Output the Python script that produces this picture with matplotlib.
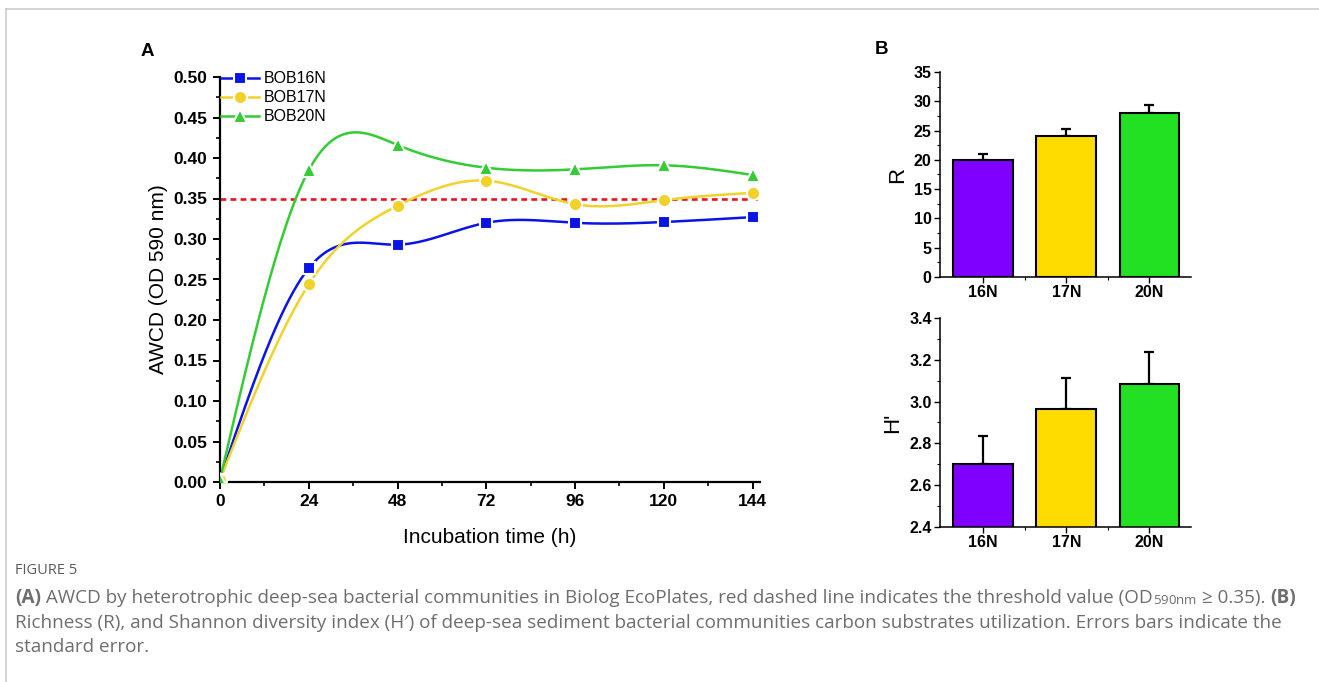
import numpy as np
import matplotlib
matplotlib.use('Agg')
import matplotlib.pyplot as plt
from matplotlib.ticker import MultipleLocator, FormatStrFormatter

plt.rcParams['font.family'] = ['Liberation Sans', 'DejaVu Sans']

# Panel A data
hours = [0, 24, 48, 72, 96, 120, 144]
bob16n = [0.003, 0.264, 0.293, 0.320, 0.320, 0.321, 0.327]
bob17n = [0.003, 0.244, 0.341, 0.372, 0.343, 0.348, 0.357]
bob20n = [0.003, 0.385, 0.416, 0.388, 0.386, 0.391, 0.379]
threshold = 0.35

# Panel B data
samples = ['16N', '17N', '20N']
richness = [20.0, 24.0, 28.0]
richness_err = [1.0, 1.2, 1.4]
shannon = [2.70, 2.965, 3.083]
shannon_err = [0.135, 0.15, 0.155]
bar_colors = ['#7f00ff', '#ffdc00', '#22e022']


def spline(x, y, n=400):
    # natural cubic spline, only used to draw the smooth connecting line
    x = np.asarray(x, float)
    y = np.asarray(y, float)
    k = len(x)
    h = np.diff(x)
    A = np.zeros((k, k))
    b = np.zeros(k)
    A[0, 0] = A[-1, -1] = 1
    for i in range(1, k - 1):
        A[i, i - 1] = h[i - 1]
        A[i, i] = 2 * (h[i - 1] + h[i])
        A[i, i + 1] = h[i]
        b[i] = 6 * ((y[i + 1] - y[i]) / h[i] - (y[i] - y[i - 1]) / h[i - 1])
    m = np.linalg.solve(A, b)
    xs = np.linspace(x[0], x[-1], n)
    j = np.clip(np.searchsorted(x, xs) - 1, 0, k - 2)
    t = xs - x[j]
    hj = h[j]
    ys = (m[j] * (x[j + 1] - xs) ** 3 / (6 * hj) + m[j + 1] * t ** 3 / (6 * hj)
          + (y[j] / hj - m[j] * hj / 6) * (x[j + 1] - xs)
          + (y[j + 1] / hj - m[j + 1] * hj / 6) * t)
    return xs, ys


fig = plt.figure(figsize=(13.19, 6.82), dpi=100)

# light page frame
fig.add_artist(plt.Line2D([6 / 1319, 6 / 1319], [0, 1 - 9 / 682], transform=fig.transFigure,
                          color='#cccccc', lw=1.2))
fig.add_artist(plt.Line2D([6 / 1319, 1], [1 - 9 / 682, 1 - 9 / 682], transform=fig.transFigure,
                          color='#cccccc', lw=1.2))

# ---- Panel A ----
ax = fig.add_axes([220 / 1319, 1 - 482 / 682, 540 / 1319, 405 / 682])
series = [('BOB16N', bob16n, '#0a14e6', 's', 8.5),
          ('BOB17N', bob17n, '#f2d22a', 'o', 9.5),
          ('BOB20N', bob20n, '#33cc33', '^', 10.5)]
for name, vals, col, mk, ms in series:
    xs, ys = spline(hours, vals)
    ax.plot(xs, ys, color=col, lw=1.8, zorder=2)
    ax.plot(hours, vals, ls='none', marker=mk, ms=ms, color=col, mec='white', mew=1.5, zorder=3)
    ax.plot([], [], color=col, lw=1.8, marker=mk, ms=ms, mec='white', mew=1.5, label=name)
ax.axhline(threshold, color='#e8141e', ls=(0, (2.2, 1.6)), lw=1.9, zorder=1)

ax.set_xlim(0, 146)
ax.set_ylim(0, 0.5)
ax.xaxis.set_major_locator(MultipleLocator(24))
ax.xaxis.set_minor_locator(MultipleLocator(12))
ax.yaxis.set_major_locator(MultipleLocator(0.05))
ax.yaxis.set_minor_locator(MultipleLocator(0.025))
ax.yaxis.set_major_formatter(FormatStrFormatter('%.2f'))
for s in ['top', 'right']:
    ax.spines[s].set_visible(False)
for s in ['left', 'bottom']:
    ax.spines[s].set_linewidth(1.6)
ax.tick_params(which='major', length=5, width=1.4, labelsize=12.5, pad=4)
ax.tick_params(which='minor', length=3, width=1.2)
for lab in ax.get_xticklabels() + ax.get_yticklabels():
    lab.set_fontweight('bold')
ax.set_xlabel('Incubation time (h)', fontsize=15, labelpad=13)
ax.set_ylabel('AWCD (OD 590 nm)', fontsize=15, labelpad=4)
ax.legend(loc='upper left', bbox_to_anchor=(-0.01, 1.03), frameon=False, fontsize=11.5,
          handlelength=2.4, handletextpad=0.3, labelspacing=0.25, borderaxespad=0)
fig.text(147 / 1319, 1 - 52 / 682, 'A', fontsize=13.5, fontweight='bold', ha='center', va='center')

# ---- Panel B ----
axR = fig.add_axes([940 / 1319, 1 - 277 / 682, 251 / 1319, 205 / 682])
axH = fig.add_axes([940 / 1319, 1 - 527 / 682, 251 / 1319, 209 / 682])
pos = np.arange(1, len(samples) + 1)
for a, vals, errs, lim, major, minor, fmt, lab in [
        (axR, richness, richness_err, (0, 35), 5, 2.5, '%d', 'R'),
        (axH, shannon, shannon_err, (2.4, 3.4), 0.2, 0.1, '%.1f', "H'")]:
    a.bar(pos, vals, width=0.72, color=bar_colors, edgecolor='black', linewidth=1.5, zorder=2)
    a.errorbar(pos, vals, yerr=[[0] * 3, errs], fmt='none', ecolor='black', elinewidth=1.6,
               capsize=3.5, capthick=1.6, zorder=1)
    a.set_xlim(0.48, 3.5)
    a.set_ylim(*lim)
    a.set_xticks(pos)
    a.set_xticklabels(samples)
    a.set_xticks([1.5, 2.5], minor=True)
    a.yaxis.set_major_locator(MultipleLocator(major))
    a.yaxis.set_minor_locator(MultipleLocator(minor))
    a.yaxis.set_major_formatter(FormatStrFormatter(fmt))
    for s in ['top', 'right']:
        a.spines[s].set_visible(False)
    for s in ['left', 'bottom']:
        a.spines[s].set_linewidth(1.1)
    a.tick_params(which='major', length=4, width=1.0, labelsize=11.5, pad=2)
    a.tick_params(which='minor', length=2.5, width=0.8)
    for t in a.get_xticklabels() + a.get_yticklabels():
        t.set_fontweight('bold')
    a.set_ylabel(lab, fontsize=16, labelpad=4)
fig.text(882 / 1319, 1 - 50 / 682, 'B', fontsize=13.5, fontweight='bold', ha='center', va='center')

# ---- Caption ----
cap_font = 'Open Sans'
cap_col = '#6e6e6e'
fig.text(15 / 1319, 1 - 571 / 682, 'FIGURE 5', fontsize=10.5, color='#5a5a5a', family=cap_font,
         va='center')

fig.canvas.draw()
renderer = fig.canvas.get_renderer()


def runs(y_px, parts, size):
    x = 15
    for txt, wt in parts:
        t = fig.text(x / 1319, 1 - y_px / 682, txt, fontsize=size, color=cap_col, family=cap_font,
                     fontweight=wt, va='center')
        x += t.get_window_extent(renderer).width
    return x


size = 13.6
runs(598, [('(A)', 'bold'),
           (' AWCD by heterotrophic deep-sea bacterial communities in Biolog EcoPlates, red dashed '
            'line indicates the threshold value (OD', 'normal'),
           ('$_{\\mathregular{590nm}}$', 'normal'), (' \u2265 0.35). ', 'normal'), ('(B)', 'bold')], size)
runs(623, [('Richness (R), and Shannon diversity index (H\u2032) of deep-sea sediment bacterial '
            'communities carbon substrates utilization. Errors bars indicate the', 'normal')], size)
runs(647, [('standard error.', 'normal')], size)

fig.savefig('out.png', dpi=100)
